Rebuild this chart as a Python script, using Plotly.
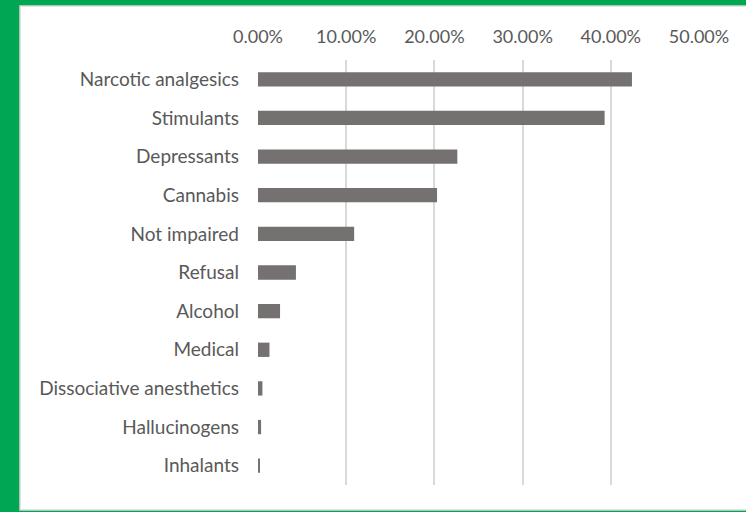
import plotly.graph_objects as go

categories = ["Narcotic analgesics", "Stimulants", "Depressants", "Cannabis", "Not impaired",
              "Refusal", "Alcohol", "Medical", "Dissociative anesthetics", "Hallucinogens", "Inhalants"]
values = [0.424, 0.393, 0.226, 0.203, 0.109, 0.043, 0.025, 0.013, 0.005, 0.0035, 0.002]
tick_vals = [0, 0.1, 0.2, 0.3, 0.4, 0.5]
tick_text = ["0.00%", "10.00%", "20.00%", "30.00%", "40.00%", "50.00%"]

W, H = 746, 512
L, R, T, B = 258, 47, 60, 27
pw, ph = W - L - R, H - T - B

def px_x(p):
    return (p - L) / pw

def px_y(p):
    return 1 - (p - T) / ph

fig = go.Figure(go.Bar(
    x=values, y=categories, orientation="h",
    marker=dict(color="#757171", line=dict(width=0)),
    hoverinfo="skip",
))

fig.add_shape(type="rect", xref="paper", yref="paper",
              x0=px_x(20), x1=px_x(760), y0=px_y(510), y1=px_y(6),
              fillcolor="white", line=dict(color="#d9d9d9", width=1.5), layer="below")

fig.update_layout(
    width=W, height=H,
    margin=dict(l=L, r=R, t=T, b=B),
    paper_bgcolor="#00a651",
    plot_bgcolor="rgba(0,0,0,0)",
    bargap=0.63,
    showlegend=False,
    font=dict(family="Lato", size=18, color="#595959"),
    xaxis=dict(side="top", range=[0, 0.5], tickvals=tick_vals, ticktext=tick_text,
               showgrid=True, gridcolor="#d9d9d9", gridwidth=1.5, zeroline=False,
               ticks="", ticklabelstandoff=12, showline=False, fixedrange=True),
    yaxis=dict(categoryorder="array", categoryarray=categories[::-1], autorange=True,
               showgrid=False, zeroline=False, ticks="", ticklabelstandoff=18,
               tickfont=dict(size=19), showline=False, fixedrange=True),
)

fig.write_html("out.html", config={"displayModeBar": False},
               post_script="document.body.style.margin='0';document.body.style.padding='0';")
